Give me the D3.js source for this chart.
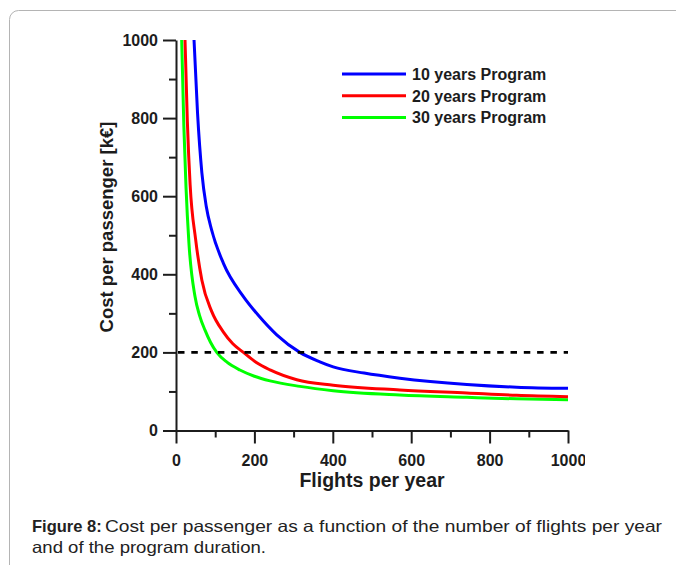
<!DOCTYPE html>
<html>
<head>
<meta charset="utf-8">
<script src="https://cdn.jsdelivr.net/npm/d3@7"></script>
<style>
  html, body { margin: 0; padding: 0; background: #fff; }
  svg { display: block; font-family: "Liberation Sans", Arial, sans-serif; }
</style>
</head>
<body>
<svg id="chart" width="676" height="565"></svg>
<script>
// Cost per passenger [k€] against flights per year, for three programme durations
const seriesNames = ["10 years Program", "20 years Program", "30 years Program"];
const seriesColors = ["#0000ff", "#ff0000", "#00ff00"];

const flights10 = [46, 55, 66, 77, 91, 121, 172, 210, 257, 316, 367, 401, 480, 571, 742, 869, 1000];
const cost10    = [1000, 812, 660, 575, 513, 428, 343, 295, 245, 200, 176, 163, 147, 134, 118, 111, 108];

const flights20 = [23, 29, 36, 50, 66, 91, 121, 145, 172, 205, 240, 308, 401, 571, 742, 869, 1000];
const cost20    = [1000, 790, 630, 490, 385, 305, 252, 222, 200, 174, 155, 130, 116, 104, 96, 90, 86.5];

const flights30 = [14.5, 20, 25.5, 33, 48.5, 60, 74, 88, 104, 130, 163, 200, 240, 316, 401, 571, 742, 869, 1000];
const cost30    = [1000, 780, 624, 480, 343, 295, 257, 226, 200, 175, 155, 139, 127, 113, 102, 91, 85, 81, 79];

const thresholdCost = 200;

const xMajorTicks = [0, 200, 400, 600, 800, 1000];
const xMinorTicks = [100, 300, 500, 700, 900];
const yMajorTicks = [0, 200, 400, 600, 800, 1000];
const yMinorTicks = [100, 300, 500, 700, 900];

const xTitle = "Flights per year";
const yTitle = "Cost per passenger [k€]";
const captionBold = "Figure 8:";
const captionLine1 = "Cost per passenger as a function of the number of flights per year";
const captionLine2 = "and of the program duration.";

const svg = d3.select("#chart");

// page frame with rounded corner
svg.append("rect")
  .attr("x", 9.5).attr("y", 10.5)
  .attr("width", 720).attr("height", 620)
  .attr("rx", 9)
  .attr("fill", "none")
  .attr("stroke", "#b4b4b4")
  .attr("stroke-width", 1);

const x = d3.scaleLinear().domain([0, 1000]).range([176, 568]);
const y = d3.scaleLinear().domain([0, 1000]).range([430.5, 40]);

// the figure is cut at its right edge
svg.append("defs").append("clipPath").attr("id", "figClip")
  .append("rect").attr("x", 0).attr("y", 0).attr("width", 585).attr("height", 500);

const fig = svg.append("g").attr("clip-path", "url(#figClip)");

const axisColor = "#1c1c1c";
const tickFont = "bold 16px 'Liberation Sans', Arial, sans-serif";

// minor ticks
fig.append("g")
  .attr("transform", `translate(0,${y(0)})`)
  .call(d3.axisBottom(x).tickValues(xMinorTicks).tickSize(7).tickSizeOuter(0).tickFormat(""))
  .call(g => g.select(".domain").remove());
fig.append("g")
  .attr("transform", `translate(${x(0)},0)`)
  .call(d3.axisLeft(y).tickValues(yMinorTicks).tickSize(7).tickSizeOuter(0).tickFormat(""))
  .call(g => g.select(".domain").remove());

// major ticks with labels
fig.append("g")
  .attr("transform", `translate(0,${y(0)})`)
  .call(d3.axisBottom(x).tickValues(xMajorTicks).tickSize(13).tickSizeOuter(0).tickPadding(11).tickFormat(d3.format("d")));
fig.append("g")
  .attr("transform", `translate(${x(0)},0)`)
  .call(d3.axisLeft(y).tickValues(yMajorTicks).tickSize(13).tickSizeOuter(0).tickPadding(5).tickFormat(d3.format("d")));

fig.selectAll(".tick line, .domain")
  .attr("stroke", axisColor)
  .attr("stroke-width", 2);
fig.selectAll(".tick text")
  .attr("fill", axisColor)
  .style("font", tickFont);

// axis titles
fig.append("text")
  .attr("x", (x(0) + x(1000)) / 2)
  .attr("y", 486.5)
  .attr("text-anchor", "middle")
  .attr("fill", axisColor)
  .style("font", "bold 19.5px 'Liberation Sans', Arial, sans-serif")
  .text(xTitle);

fig.append("text")
  .attr("transform", `translate(113,227) rotate(-90)`)
  .attr("text-anchor", "middle")
  .attr("fill", axisColor)
  .style("font", "bold 18.5px 'Liberation Sans', Arial, sans-serif")
  .text(yTitle);

// curves
const series = [
  { name: seriesNames[0], color: seriesColors[0], xs: flights10, ys: cost10 },
  { name: seriesNames[1], color: seriesColors[1], xs: flights20, ys: cost20 },
  { name: seriesNames[2], color: seriesColors[2], xs: flights30, ys: cost30 }
];

const line = d3.line()
  .x(d => x(d[0]))
  .y(d => y(d[1]))
  .curve(d3.curveMonotoneX);

fig.selectAll("path.curve")
  .data(series.slice().reverse())
  .join("path")
  .attr("class", "curve")
  .attr("fill", "none")
  .attr("stroke", d => d.color)
  .attr("stroke-width", 3)
  .attr("d", d => line(d.xs.map((v, i) => [v, d.ys[i]])));

// threshold line
fig.append("line")
  .attr("x1", x(0) + 2).attr("x2", x(1000))
  .attr("y1", y(thresholdCost)).attr("y2", y(thresholdCost))
  .attr("stroke", "#000")
  .attr("stroke-width", 2.6)
  .attr("stroke-dasharray", "6.5 6.8");

// legend
const legend = fig.append("g");
series.forEach((s, i) => {
  const ly = 74 + i * 21.8;
  legend.append("line")
    .attr("x1", 342).attr("x2", 406)
    .attr("y1", ly).attr("y2", ly)
    .attr("stroke", s.color)
    .attr("stroke-width", 3);
  legend.append("text")
    .attr("x", 412)
    .attr("y", ly + 5.8)
    .attr("fill", axisColor)
    .style("font", "bold 16px 'Liberation Sans', Arial, sans-serif")
    .text(s.name);
});

// caption
const cap = svg.append("g")
  .style("font", "16.5px 'Liberation Sans', Arial, sans-serif")
  .attr("fill", "#222");
cap.append("text").attr("x", 32).attr("y", 532.3)
  .style("font-weight", "bold")
  .text(captionBold);
cap.append("text").attr("x", 105).attr("y", 532.3)
  .attr("textLength", 557).attr("lengthAdjust", "spacingAndGlyphs")
  .text(captionLine1);
cap.append("text").attr("x", 32).attr("y", 553.3)
  .attr("textLength", 234).attr("lengthAdjust", "spacingAndGlyphs")
  .text(captionLine2);
</script>
</body>
</html>
